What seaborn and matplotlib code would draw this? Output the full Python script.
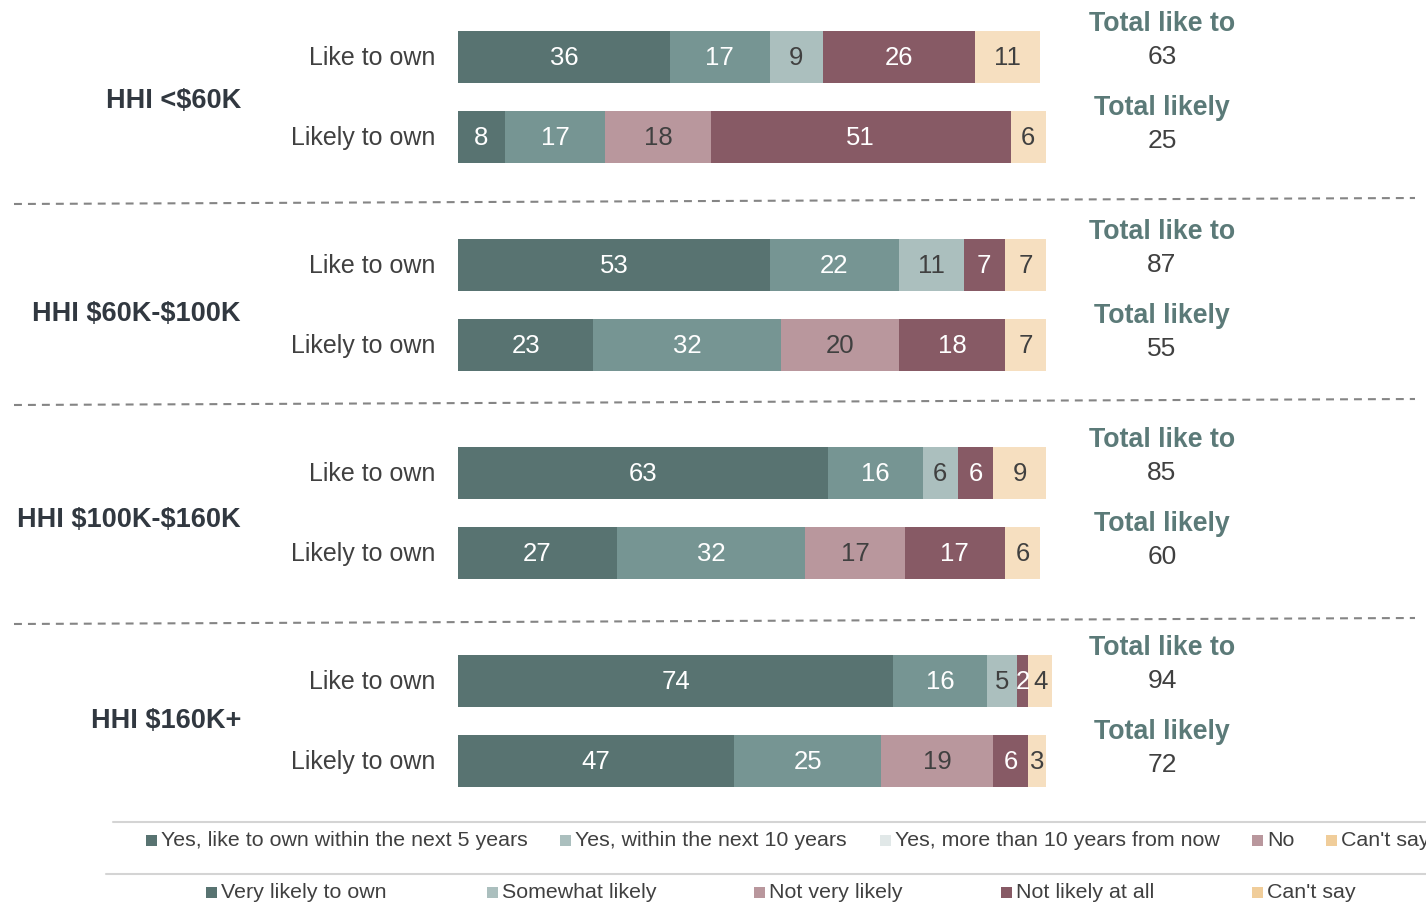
import numpy as np
import pandas as pd
import matplotlib
matplotlib.use("Agg")
import matplotlib.pyplot as plt
from matplotlib.patches import Rectangle
import seaborn as sns

# ---- data ----
groups = ["HHI <$60K", "HHI $60K-$100K", "HHI $100K-$160K", "HHI $160K+"]
row_kinds = ["Like to own", "Likely to own"]

like_own = [
    [36, 17, 9, 26, 11],
    [53, 22, 11, 7, 7],
    [63, 16, 6, 6, 9],
    [74, 16, 5, 2, 4],
]
likely_own = [
    [8, 17, 18, 51, 6],
    [23, 32, 20, 18, 7],
    [27, 32, 17, 17, 6],
    [47, 25, 19, 6, 3],
]
total_like = [63, 87, 85, 94]
total_likely = [25, 55, 60, 72]

legend_like = ["Yes, like to own within the next 5 years", "Yes, within the next 10 years",
               "Yes, more than 10 years from now", "No", "Can't say"]
legend_likely = ["Very likely to own", "Somewhat likely", "Not very likely",
                 "Not likely at all", "Can't say"]

# ---- colours ----
DARK_TEAL = "#587371"
MID_TEAL = "#769593"
LIGHT_TEAL = "#abbfbe"
PALE_TEAL = "#e1e8e8"
PINK = "#b9979d"
WINE = "#875a65"
BEIGE = "#f6dfc0"
BEIGE_KEY = "#f0cd9a"
TEXT = "#404040"
GROUP_TEXT = "#313840"
TOTAL_TEXT = "#5b7a78"

seg_colors = {
    "Like to own": [DARK_TEAL, MID_TEAL, LIGHT_TEAL, WINE, BEIGE],
    "Likely to own": [DARK_TEAL, MID_TEAL, PINK, WINE, BEIGE],
}
dark_segments = {DARK_TEAL, MID_TEAL, WINE}

key_colors_like = [DARK_TEAL, LIGHT_TEAL, PALE_TEAL, PINK, BEIGE_KEY]
key_colors_likely = [DARK_TEAL, LIGHT_TEAL, PINK, WINE, BEIGE_KEY]

sns.set_theme(style="white")
plt.rcParams["font.family"] = ["Liberation Sans", "DejaVu Sans"]
plt.rcParams["text.parse_math"] = False

W, H = 1426, 902
fig = plt.figure(figsize=(W / 100, H / 100), dpi=100)

# ---- long table of rows and cumulative segment ends ----
GROUP_STEP = 2.6
records = []
for g, grp in enumerate(groups):
    for r, kind in enumerate(row_kinds):
        vals = like_own[g] if r == 0 else likely_own[g]
        pos = g * GROUP_STEP + r
        cum = np.cumsum(vals)
        for k, v in enumerate(vals):
            records.append(dict(group=grp, kind=kind, pos=pos, layer=k,
                                value=v, end=cum[k], start=cum[k] - v))
df = pd.DataFrame(records)

# bar axes: 1 y-unit = 80 px, 1 x-unit (percent) = 5.88 px
PX_X, X0 = 5.88, 458
PX_Y, Y0 = 80, 57
ax = fig.add_axes([0, 0, 1, 1])
for k in reversed(range(5)):
    layer = df[df.layer == k]
    pal = {kind: seg_colors[kind][k] for kind in row_kinds}
    sns.barplot(data=layer, x="end", y="pos", hue="kind", palette=pal,
                orient="h", native_scale=True, width=0.66, dodge=False,
                legend=False, saturation=1, linewidth=0, ax=ax)

ax.set_xlim(-X0 / PX_X, (W - X0) / PX_X)
ax.set_ylim((H - Y0) / PX_Y, -Y0 / PX_Y)
ax.set_axis_off()

# segment values
for _, row in df.iterrows():
    col = seg_colors[row.kind][row.layer]
    ax.text(row.start + row.value / 2, row.pos + 0.01, f"{row.value}",
            ha="center", va="center", fontsize=18.5,
            color="white" if col in dark_segments else TEXT)

# ---- overlay in pixel coordinates for labels, separators and keys ----
ov = fig.add_axes([0, 0, 1, 1], facecolor="none")
ov.set_xlim(0, W)
ov.set_ylim(H, 0)
ov.set_axis_off()

def ypx(pos):
    return Y0 + pos * PX_Y

group_label_y = [101, 314, 520, 721]
separator_y = [201, 402, 621]

for g, grp in enumerate(groups):
    p_like = g * GROUP_STEP
    p_likely = p_like + 1
    # row labels
    ov.text(435, ypx(p_like) + 1, row_kinds[0], ha="right", va="center",
            fontsize=18, color=TEXT)
    ov.text(435, ypx(p_likely) + 1, row_kinds[1], ha="right", va="center",
            fontsize=18, color=TEXT)
    # group label
    ov.text(241, group_label_y[g], grp, ha="right",
            va="center", fontsize=19.5, fontweight="bold", color=GROUP_TEXT)
    # totals
    ov.text(1162, ypx(p_like) - 33, "Total like to", ha="center", va="center",
            fontsize=19.3, fontweight="bold", color=TOTAL_TEXT)
    ov.text(1162, ypx(p_like), f"{total_like[g]}", ha="center", va="center",
            fontsize=19, color=TEXT)
    ov.text(1162, ypx(p_likely) - 29, "Total likely", ha="center", va="center",
            fontsize=19.3, fontweight="bold", color=TOTAL_TEXT)
    ov.text(1162, ypx(p_likely) + 4, f"{total_likely[g]}", ha="center",
            va="center", fontsize=19, color=TEXT)

# dashed separators between groups
for y in separator_y:
    ov.plot([14, 1415], [y + 3, y - 3], color="#858585", lw=1.5,
            linestyle=(0, (3.8, 2.9)), solid_capstyle="butt")

# key separators
ov.plot([113, W], [822, 822], color="#d4d4d4", lw=1.5)
ov.plot([106, W], [874, 874], color="#d4d4d4", lw=1.5)

def key_row(labels, colors, xs, y):
    for lab, col, x in zip(labels, colors, xs):
        ov.add_patch(Rectangle((x, y - 5.5), 11, 11, facecolor=col,
                               edgecolor="none"))
        ov.text(x + 15, y + 1, lab, ha="left", va="center", fontsize=15.4,
                color=TEXT)

key_row(legend_like, key_colors_like, [146, 560, 880, 1252, 1326], 840)
key_row(legend_likely, key_colors_likely, [206, 487, 754, 1001, 1252], 892)

fig.savefig("out.png", dpi=100)
